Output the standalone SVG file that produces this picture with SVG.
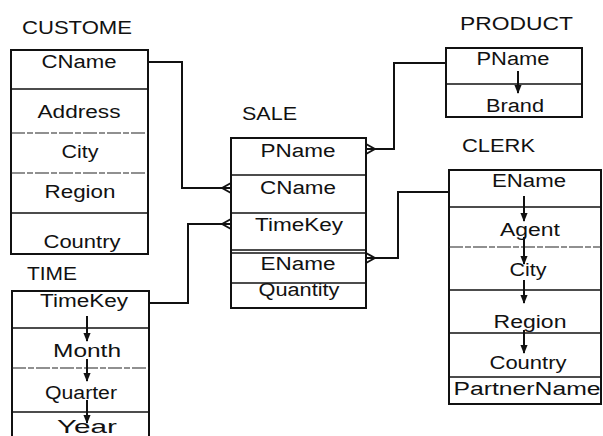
<svg xmlns="http://www.w3.org/2000/svg" width="603" height="436" viewBox="0 0 603 436">
  <defs>
    <style>
      .box { fill: none; stroke: #111; stroke-width: 2; }
      .div { stroke: #111; stroke-width: 1.6; }
      .thin { stroke: #222; stroke-width: 1.2; stroke-dasharray: 14 2 6 2; }
      .lbl { font-family: "Liberation Sans", Arial, sans-serif; font-size: 18px; fill: #111; text-anchor: middle; }
      .ttl { font-family: "Liberation Sans", Arial, sans-serif; font-size: 18px; fill: #111; }
      .conn { fill: none; stroke: #111; stroke-width: 2; }
      .fd { stroke: #111; stroke-width: 2; marker-end: url(#head); }
    </style>
    <marker id="head" viewBox="0 0 10 10" refX="9" refY="5" markerWidth="4.5" markerHeight="4.5" orient="auto" markerUnits="strokeWidth">
      <path d="M0,1 L10,5 L0,9 z" fill="#111"/>
    </marker>
  </defs>
  <rect width="603" height="436" fill="#fff"/>

  <!-- CUSTOME dimension -->
  <g id="customer">
    <text class="ttl" x="22" y="34" textLength="110" lengthAdjust="spacingAndGlyphs">CUSTOME</text>
    <rect class="box" x="11" y="50" width="137" height="204"/>
    <line class="div" x1="11" y1="89" x2="148" y2="89"/>
    <line class="thin" x1="11" y1="133" x2="148" y2="133"/>
    <line class="thin" x1="11" y1="173" x2="148" y2="173"/>
    <line class="div" x1="11" y1="213" x2="148" y2="213"/>
    <text class="lbl" x="79" y="68" textLength="75" lengthAdjust="spacingAndGlyphs">CName</text>
    <text class="lbl" x="79" y="118" textLength="83" lengthAdjust="spacingAndGlyphs">Address</text>
    <text class="lbl" x="80" y="158" textLength="37" lengthAdjust="spacingAndGlyphs">City</text>
    <text class="lbl" x="80" y="198" textLength="71" lengthAdjust="spacingAndGlyphs">Region</text>
    <text class="lbl" x="82" y="248" textLength="77" lengthAdjust="spacingAndGlyphs">Country</text>
  </g>

  <!-- TIME dimension (continues below the frame) -->
  <g id="time">
    <text class="ttl" x="27" y="280" textLength="50" lengthAdjust="spacingAndGlyphs">TIME</text>
    <path class="box" d="M12,440 V291 H149 V440"/>
    <line class="div" x1="12" y1="328" x2="149" y2="328"/>
    <line class="thin" x1="12" y1="368" x2="149" y2="368"/>
    <line class="div" x1="12" y1="412" x2="149" y2="412"/>
    <text class="lbl" x="84" y="307" textLength="88" lengthAdjust="spacingAndGlyphs">TimeKey</text>
    <text class="lbl" x="87" y="357" textLength="68" lengthAdjust="spacingAndGlyphs">Month</text>
    <text class="lbl" x="81" y="399" textLength="72" lengthAdjust="spacingAndGlyphs">Quarter</text>
    <text class="lbl" x="87" y="433" textLength="60" lengthAdjust="spacingAndGlyphs">Year</text>
    <line class="fd" x1="87" y1="316" x2="87" y2="341"/>
    <line class="fd" x1="87" y1="359" x2="87" y2="381"/>
    <line class="fd" x1="87" y1="400" x2="87" y2="423"/>
  </g>

  <!-- SALE fact table -->
  <g id="sale">
    <text class="ttl" x="242" y="120" textLength="55" lengthAdjust="spacingAndGlyphs">SALE</text>
    <rect class="box" x="231" y="138" width="135" height="170"/>
    <line class="div" x1="231" y1="175" x2="366" y2="175"/>
    <line class="div" x1="231" y1="213" x2="366" y2="213"/>
    <line class="div" x1="231" y1="250" x2="366" y2="250"/>
    <line class="div" x1="231" y1="253" x2="366" y2="253"/>
    <line class="div" x1="231" y1="283" x2="366" y2="283"/>
    <text class="lbl" x="298" y="157" textLength="75" lengthAdjust="spacingAndGlyphs">PName</text>
    <text class="lbl" x="298" y="194" textLength="76" lengthAdjust="spacingAndGlyphs">CName</text>
    <text class="lbl" x="299" y="231" textLength="88" lengthAdjust="spacingAndGlyphs">TimeKey</text>
    <text class="lbl" x="298" y="270" textLength="75" lengthAdjust="spacingAndGlyphs">EName</text>
    <text class="lbl" x="299" y="296" textLength="81" lengthAdjust="spacingAndGlyphs">Quantity</text>
  </g>

  <!-- PRODUCT dimension -->
  <g id="product">
    <text class="ttl" x="460" y="30" textLength="113" lengthAdjust="spacingAndGlyphs">PRODUCT</text>
    <rect class="box" x="446" y="48" width="136" height="69"/>
    <line class="div" x1="446" y1="84" x2="582" y2="84"/>
    <text class="lbl" x="513" y="65" textLength="73" lengthAdjust="spacingAndGlyphs">PName</text>
    <text class="lbl" x="515" y="112" textLength="58" lengthAdjust="spacingAndGlyphs">Brand</text>
    <line class="fd" x1="518" y1="71" x2="518" y2="93"/>
  </g>

  <!-- CLERK dimension -->
  <g id="clerk">
    <text class="ttl" x="462" y="152" textLength="73" lengthAdjust="spacingAndGlyphs">CLERK</text>
    <rect class="box" x="449" y="170" width="152" height="234"/>
    <line class="div" x1="449" y1="207" x2="601" y2="207"/>
    <line class="thin" x1="449" y1="247" x2="601" y2="247"/>
    <line class="div" x1="449" y1="290" x2="601" y2="290"/>
    <line class="div" x1="449" y1="333" x2="601" y2="333"/>
    <line class="div" x1="449" y1="377" x2="601" y2="377"/>
    <text class="lbl" x="529" y="187" textLength="74" lengthAdjust="spacingAndGlyphs">EName</text>
    <text class="lbl" x="530" y="236" textLength="60" lengthAdjust="spacingAndGlyphs">Agent</text>
    <text class="lbl" x="528" y="276" textLength="37" lengthAdjust="spacingAndGlyphs">City</text>
    <text class="lbl" x="530" y="328" textLength="73" lengthAdjust="spacingAndGlyphs">Region</text>
    <text class="lbl" x="528" y="369" textLength="77" lengthAdjust="spacingAndGlyphs">Country</text>
    <text class="lbl" x="527" y="395" textLength="147" lengthAdjust="spacingAndGlyphs">PartnerName</text>
    <line class="fd" x1="524" y1="196" x2="524" y2="221"/>
    <line class="fd" x1="524" y1="237" x2="524" y2="264"/>
    <line class="fd" x1="524" y1="280" x2="524" y2="303"/>
    <line class="fd" x1="524" y1="330" x2="524" y2="353"/>
  </g>

  <!-- Relationships: one dimension row to many SALE rows (crow's foot at SALE) -->
  <g id="connectors">
    <path class="conn" d="M148,62 H182 V188 H231"/>
    <path class="conn" d="M222,188 L231,183 M222,188 L231,193"/>
    <path class="conn" d="M149,303 H188 V224 H231"/>
    <path class="conn" d="M222,224 L231,219 M222,224 L231,229"/>
    <path class="conn" d="M446,63 H394 V149 H366"/>
    <path class="conn" d="M375,149 L366,144 M375,149 L366,154"/>
    <path class="conn" d="M449,192 H398 V258 H366"/>
    <path class="conn" d="M375,258 L366,253 M375,258 L366,263"/>
  </g>
</svg>
